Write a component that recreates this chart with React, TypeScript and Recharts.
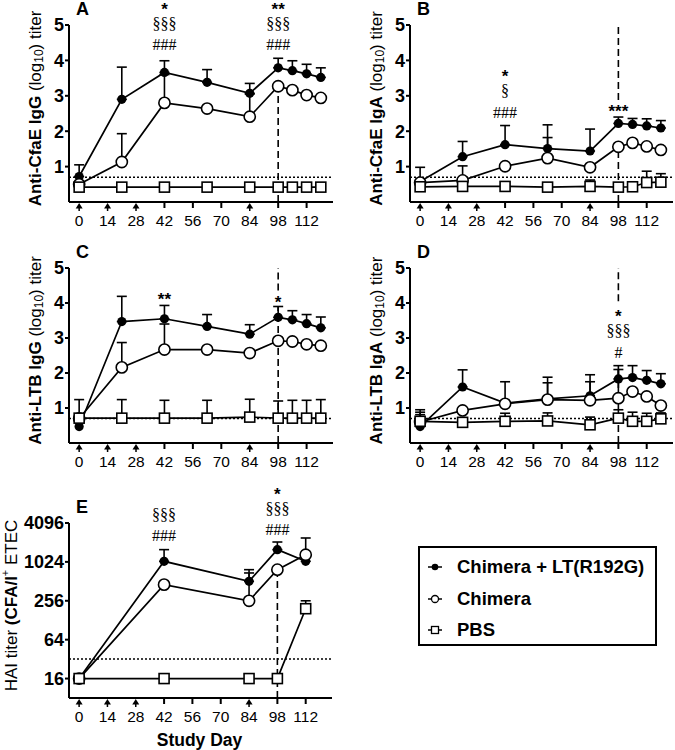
import React from "react";
import {
  LineChart,
  Line,
  XAxis,
  YAxis,
  ErrorBar,
  ReferenceLine,
  ReferenceDot,
} from "recharts";

const SANS = '"Liberation Sans", Arial, Helvetica, sans-serif';
const SERIF = '"Liberation Serif", "Times New Roman", serif';
const INK = "#000";

// ─── Shared axes ─────────────────────────────────────────────────────────────
const days = [0, 21, 42, 63, 84, 98, 105, 112, 119];
const haiDays = [0, 42, 84, 98, 112];
const dayTicks = [0, 14, 28, 42, 56, 70, 84, 98, 112];
const doseDays = [0, 14, 28, 84];
const challengeDay = 98;
const dayDomain = [-5, 125];
const logTicks = [1, 2, 3, 4, 5];
const logDomain = [0, 5];
const haiTicks = [16, 64, 256, 1024, 4096];
const haiDomain = [8, 4096];
const logLod = 0.7;
const haiLod = 32;

// ─── A: anti-CfaE IgG ────────────────────────────────────────────────────────
const aAdj = [0.72, 2.9, 3.66, 3.38, 3.07, 3.79, 3.71, 3.62, 3.52];
const aAdjTop = [1.05, 3.81, 3.99, 3.74, 3.35, 4.06, 3.99, 3.89, 3.79];
const aChi = [0.5, 1.13, 2.8, 2.64, 2.41, 3.27, 3.16, 3.02, 2.94];
const aChiTop = [null, 1.93, 3.6, null, 3.05, null, null, null, null];
const aPbs = [0.42, 0.42, 0.42, 0.42, 0.42, 0.42, 0.42, 0.42, 0.42];
const aPbsTop = [null, null, null, null, null, null, null, null, null];

// ─── B: anti-CfaE IgA ────────────────────────────────────────────────────────
const bAdj = [0.58, 1.28, 1.62, 1.51, 1.44, 2.22, 2.19, 2.15, 2.09];
const bAdjTop = [0.98, 1.71, 2.16, 2.18, 2.06, 2.4, 2.36, 2.35, 2.3];
const bChi = [0.55, 0.61, 1.01, 1.24, 0.98, 1.56, 1.67, 1.57, 1.47];
const bChiTop = [null, 1.02, null, 1.82, null, null, null, null, null];
const bPbs = [0.43, 0.44, 0.44, 0.42, 0.44, 0.42, 0.43, 0.55, 0.56];
const bPbsTop = [null, null, null, null, 0.62, null, null, 0.87, 0.8];

// ─── C: anti-LTB IgG ─────────────────────────────────────────────────────────
const cAdj = [0.47, 3.47, 3.55, 3.33, 3.11, 3.59, 3.52, 3.41, 3.29];
const cAdjTop = [null, 4.19, 3.93, 3.67, 3.38, 3.9, 3.78, 3.67, 3.6];
const cChi = [0.7, 2.16, 2.67, 2.67, 2.57, 2.92, 2.9, 2.82, 2.78];
const cChiTop = [null, 2.87, 3.4, null, null, null, null, null, null];
const cPbs = [0.71, 0.71, 0.71, 0.71, 0.74, 0.71, 0.71, 0.71, 0.71];
const cPbsTop = [1.24, 1.24, 1.22, 1.22, 1.25, 1.2, 1.22, 1.22, 1.24];

// ─── D: anti-LTB IgA ─────────────────────────────────────────────────────────
const dAdj = [0.47, 1.6, 1.14, 1.26, 1.35, 1.83, 1.87, 1.79, 1.69];
const dAdjTop = [0.95, 2.09, 1.75, 1.88, 1.95, 2.21, 2.21, 2.07, 1.98];
const dChi = [0.6, 0.93, 1.12, 1.24, 1.22, 1.28, 1.47, 1.33, 1.07];
const dChiTop = [0.88, null, null, 1.72, 1.75, 2.1, null, null, null];
const dPbs = [0.62, 0.59, 0.62, 0.63, 0.52, 0.71, 0.62, 0.62, 0.69];
const dPbsTop = [0.81, null, 0.85, 0.86, 0.74, 0.95, 0.88, 0.85, 0.86];

// ─── E: HAI titer ────────────────────────────────────────────────────────────
const eAdj = [16, 1045, 512, 1585, 1045];
const eAdjTop = [null, 1585, 776, 2080, 1410];
const eChi = [16, 455, 256, 776, 1320];
const eChiTop = [null, null, 690, null, 2400];
const ePbs = [16, 16, 16, 16, 193];
const ePbsTop = [null, null, null, null, 256];

// significance marks: day, data value of the lowest line, lines top→bottom
const aNotes = [
  { day: 42, y: 4.44, lines: ["*", "§§§", "###"] },
  { day: 98, y: 4.44, lines: ["**", "§§§", "###"] },
];
const bNotes = [
  { day: 42, y: 2.54, lines: ["*", "§", "###"] },
  { day: 98, y: 2.68, lines: ["***"] },
];
const cNotes = [
  { day: 42, y: 4.24, lines: ["**"] },
  { day: 98, y: 4.15, lines: ["*"] },
];
const dNotes = [{ day: 98, y: 2.59, lines: ["*", "§§§", "#"] }];
const eNotes = [
  { day: 42, y: 2610, lines: ["§§§", "###"] },
  { day: 98, y: 3230, lines: ["*", "§§§", "###"] },
];

// dashed challenge line pieces (data values, gaps leave room for the marks)
const aChallenge = [[0, 3.27]];
const bChallenge = [[0, 1.56], [2.88, 5]];
const cChallenge = [[0, 3.9], [4.36, 5]];
const dChallenge = [[0, 2.2], [4.05, 5]];
const eChallenge = [[8, 776]];

const legendItems = [
  { label: "Chimera + LT(R192G)", mark: "filled" },
  { label: "Chimera", mark: "open" },
  { label: "PBS", mark: "square" },
];

// ─── Helpers ─────────────────────────────────────────────────────────────────
const err = (v: number, top: number | null) =>
  top == null ? null : [0, +(top - v).toFixed(3)];

function buildRows(
  xs: number[],
  adj: number[],
  adjTop: (number | null)[],
  chi: number[],
  chiTop: (number | null)[],
  pbs: number[],
  pbsTop: (number | null)[]
) {
  return xs.map((day, i) => ({
    day,
    adj: adj[i],
    adjErr: err(adj[i], adjTop[i]),
    chi: chi[i],
    chiErr: err(chi[i], chiTop[i]),
    pbs: pbs[i],
    pbsErr: err(pbs[i], pbsTop[i]),
  }));
}

const rowsA = buildRows(days, aAdj, aAdjTop, aChi, aChiTop, aPbs, aPbsTop);
const rowsB = buildRows(days, bAdj, bAdjTop, bChi, bChiTop, bPbs, bPbsTop);
const rowsC = buildRows(days, cAdj, cAdjTop, cChi, cChiTop, cPbs, cPbsTop);
const rowsD = buildRows(days, dAdj, dAdjTop, dChi, dChiTop, dPbs, dPbsTop);
const rowsE = buildRows(haiDays, eAdj, eAdjTop, eChi, eChiTop, ePbs, ePbsTop);

// ─── Marks ───────────────────────────────────────────────────────────────────
const FilledDot = (p: any) => (
  <circle key={`f${p.index}`} cx={p.cx} cy={p.cy} r={4.6} fill={INK} />
);
const OpenDot = (p: any) => (
  <circle key={`o${p.index}`} cx={p.cx} cy={p.cy} r={5.6} fill="#fff" stroke={INK} strokeWidth={1.6} />
);
const SquareDot = (p: any) => (
  <rect key={`s${p.index}`} x={p.cx - 5} y={p.cy - 5} width={10} height={10} fill="#fff" stroke={INK} strokeWidth={1.6} />
);

function DayTick({ x, y, payload }: any) {
  const v = payload.value;
  const dose = doseDays.includes(v);
  return (
    <g>
      {dose ? (
        <>
          <path d={`M${x},${y + 1} L${x - 3.5},${y + 6.5} L${x + 3.5},${y + 6.5} Z`} fill={INK} />
          <line x1={x} x2={x} y1={y + 6} y2={y + 9} stroke={INK} strokeWidth={1.5} />
        </>
      ) : (
        <line x1={x} x2={x} y1={y} y2={y + 6} stroke={INK} strokeWidth={2} />
      )}
      <text x={x} y={y + 24} textAnchor="middle" fontSize={15.5} fontFamily={SANS} fill={INK}>
        {v}
      </text>
    </g>
  );
}

function Note({ cx, cy, lines }: any) {
  const n = lines.length;
  return (
    <g>
      {lines.map((s: string, i: number) => {
        const mid = cy - (n - 1 - i) * 20;
        const star = s.includes("*");
        const shift = star ? 10 : s.includes("§") ? 4 : 5.5;
        return (
          <text
            key={i}
            x={cx}
            y={mid + shift}
            textAnchor="middle"
            fontFamily={star ? SANS : SERIF}
            fontWeight={star ? 700 : 400}
            fontSize={star ? 17 : 16}
            fill={INK}
          >
            {s}
          </text>
        );
      })}
    </g>
  );
}

function YTitle({ viewBox, dx, dy, children }: any) {
  const cx = viewBox.x + dx;
  const cy = viewBox.y + viewBox.height / 2 + dy;
  return (
    <text
      x={cx}
      y={cy}
      transform={`rotate(-90 ${cx} ${cy})`}
      textAnchor="middle"
      dominantBaseline="central"
      fontFamily={SANS}
      fontSize={17}
      fill={INK}
    >
      {children}
    </text>
  );
}

function StudyDay({ viewBox }: any) {
  return (
    <text
      x={viewBox.x + viewBox.width / 2 - 1}
      y={viewBox.y + 48}
      textAnchor="middle"
      fontFamily={SANS}
      fontWeight={700}
      fontSize={17.5}
      fill={INK}
    >
      Study Day
    </text>
  );
}

// ─── One panel ───────────────────────────────────────────────────────────────
function Panel(props: any) {
  const { left, top, width, height, marginTop, right, bottom, xHeight, rows, domain, ticks, log, lod, challenge, notes, title, xLabel, letter } = props;
  return (
    <div style={{ position: "absolute", left, top }}>
      <div
        style={{
          position: "absolute",
          left: 76,
          top: marginTop - 25,
          fontFamily: SANS,
          fontWeight: 700,
          fontSize: 18,
          lineHeight: "18px",
        }}
      >
        {letter}
      </div>
      <LineChart width={width} height={height} data={rows} margin={{ top: marginTop, right, left: 25, bottom }}>
        <XAxis
          type="number"
          dataKey="day"
          domain={dayDomain}
          ticks={dayTicks}
          interval={0}
          tick={<DayTick />}
          tickLine={false}
          tickSize={0}
          tickMargin={0}
          height={xHeight}
          axisLine={{ stroke: INK, strokeWidth: 2 }}
          label={xLabel ? <StudyDay /> : undefined}
        />
        <YAxis
          type="number"
          domain={domain}
          scale={log ? "log" : "linear"}
          ticks={ticks}
          interval={0}
          width={44}
          tick={{ fill: INK, fontSize: 18, fontWeight: 700, fontFamily: SANS }}
          tickLine={{ stroke: INK, strokeWidth: 2 }}
          tickSize={4}
          tickMargin={1}
          axisLine={{ stroke: INK, strokeWidth: 2 }}
          label={title}
        />
        <ReferenceLine y={lod} stroke={INK} strokeWidth={1.5} strokeDasharray="2 2" />
        {challenge.map((seg: number[], i: number) => (
          <ReferenceLine
            key={`ch${i}`}
            segment={[
              { x: challengeDay, y: seg[0] },
              { x: challengeDay, y: seg[1] },
            ]}
            stroke={INK}
            strokeWidth={1.6}
            strokeDasharray="7 4"
          />
        ))}
        <Line type="linear" dataKey="adj" stroke={INK} strokeWidth={1.7} dot={FilledDot} activeDot={false} isAnimationActive={false}>
          <ErrorBar dataKey="adjErr" width={5} stroke={INK} strokeWidth={1.6} direction="y" isAnimationActive={false} />
        </Line>
        <Line type="linear" dataKey="chi" stroke={INK} strokeWidth={1.7} dot={OpenDot} activeDot={false} isAnimationActive={false}>
          <ErrorBar dataKey="chiErr" width={5} stroke={INK} strokeWidth={1.6} direction="y" isAnimationActive={false} />
        </Line>
        <Line type="linear" dataKey="pbs" stroke={INK} strokeWidth={1.7} dot={SquareDot} activeDot={false} isAnimationActive={false}>
          <ErrorBar dataKey="pbsErr" width={5} stroke={INK} strokeWidth={1.6} direction="y" isAnimationActive={false} />
        </Line>
        {notes.map((n: any, i: number) => (
          <ReferenceDot
            key={`n${i}`}
            x={n.day}
            y={n.y}
            r={0}
            ifOverflow="visible"
            shape={(p: any) => <Note cx={p.cx} cy={p.cy} lines={n.lines} />}
          />
        ))}
      </LineChart>
    </div>
  );
}

function LegendMark({ mark }: { mark: string }) {
  return (
    <svg width={16} height={12}>
      <line x1={1} x2={15} y1={6} y2={6} stroke={INK} strokeWidth={1.5} />
      {mark === "filled" && <circle cx={8} cy={6} r={3.3} fill={INK} />}
      {mark === "open" && <circle cx={8} cy={6} r={3.5} fill="#fff" stroke={INK} strokeWidth={1.3} />}
      {mark === "square" && <rect x={4.5} y={2.5} width={7} height={7} fill="#fff" stroke={INK} strokeWidth={1.3} />}
    </svg>
  );
}

export default function App() {
  return (
    <div
      style={{
        position: "absolute",
        left: 0,
        top: 0,
        width: 675,
        height: 750,
        overflow: "hidden",
        background: "#fff",
        fontFamily: SANS,
      }}
    >
      <Panel
        letter="A" left={0} top={0} width={340} height={240} marginTop={25} right={7} bottom={8} xHeight={30}
        rows={rowsA} domain={logDomain} ticks={logTicks} lod={logLod} challenge={aChallenge} notes={aNotes}
        title={
          <YTitle dx={10} dy={-5}>
            <tspan fontWeight={700}>Anti-CfaE IgG</tspan>
            <tspan> (log</tspan>
            <tspan fontSize={12} dy={4}>10</tspan>
            <tspan dy={-4}>) titer</tspan>
          </YTitle>
        }
      />
      <Panel
        letter="B" left={341} top={0} width={334} height={240} marginTop={25} right={2} bottom={8} xHeight={30}
        rows={rowsB} domain={logDomain} ticks={logTicks} lod={logLod} challenge={bChallenge} notes={bNotes}
        title={
          <YTitle dx={10} dy={-5}>
            <tspan fontWeight={700}>Anti-CfaE IgA</tspan>
            <tspan> (log</tspan>
            <tspan fontSize={12} dy={4}>10</tspan>
            <tspan dy={-4}>) titer</tspan>
          </YTitle>
        }
      />
      <Panel
        letter="C" left={0} top={243} width={340} height={238} marginTop={25} right={7} bottom={8} xHeight={30}
        rows={rowsC} domain={logDomain} ticks={logTicks} lod={logLod} challenge={cChallenge} notes={cNotes}
        title={
          <YTitle dx={10} dy={-5}>
            <tspan fontWeight={700}>Anti-LTB IgG</tspan>
            <tspan> (log</tspan>
            <tspan fontSize={12} dy={4}>10</tspan>
            <tspan dy={-4}>) titer</tspan>
          </YTitle>
        }
      />
      <Panel
        letter="D" left={341} top={243} width={334} height={238} marginTop={25} right={2} bottom={8} xHeight={30}
        rows={rowsD} domain={logDomain} ticks={logTicks} lod={logLod} challenge={dChallenge} notes={dNotes}
        title={
          <YTitle dx={10} dy={-5}>
            <tspan fontWeight={700}>Anti-LTB IgA</tspan>
            <tspan> (log</tspan>
            <tspan fontSize={12} dy={4}>10</tspan>
            <tspan dy={-4}>) titer</tspan>
          </YTitle>
        }
      />
      <Panel
        letter="E" left={0} top={478} width={340} height={272} marginTop={45} right={8} bottom={0} xHeight={52}
        rows={rowsE} domain={haiDomain} ticks={haiTicks} log lod={haiLod} challenge={eChallenge} notes={eNotes} xLabel
        title={
          <YTitle dx={-14} dy={-5}>
            <tspan>HAI titer </tspan>
            <tspan fontWeight={700}>(CFA/I</tspan>
            <tspan fontSize={11} dy={-6}>+</tspan>
            <tspan dy={6}> ETEC</tspan>
          </YTitle>
        }
      />
      <div
        style={{
          position: "absolute",
          left: 418,
          top: 546,
          width: 235,
          height: 96,
          border: "2px solid #000",
          fontFamily: SANS,
          fontWeight: 700,
          fontSize: 18.5,
        }}
      >
        {legendItems.map((item, i) => (
          <div
            key={item.label}
            style={{ position: "absolute", left: 7, top: 8 + i * 31.5, height: 22, display: "flex", alignItems: "center", whiteSpace: "nowrap" }}
          >
            <LegendMark mark={item.mark} />
            <span style={{ marginLeft: 14 }}>{item.label}</span>
          </div>
        ))}
      </div>
    </div>
  );
}
